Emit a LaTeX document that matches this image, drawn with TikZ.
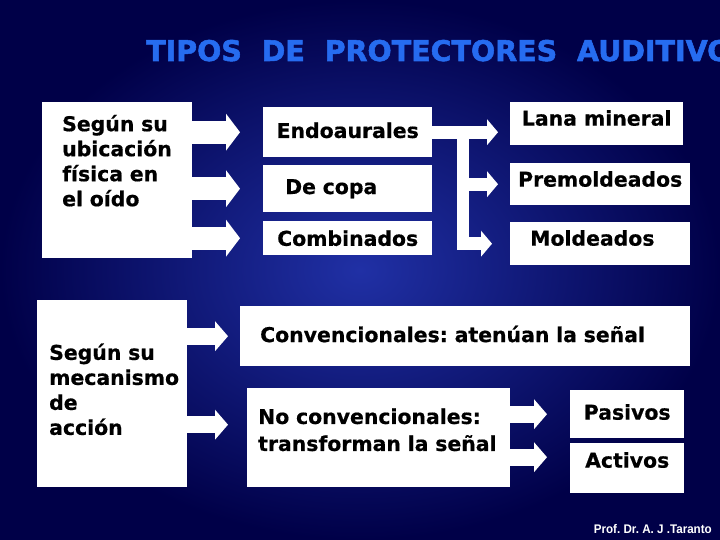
\documentclass[tikz,border=0pt]{standalone}
\usepackage{fontspec}
\setmainfont{DejaVu Sans}[BoldFeatures={FakeBold=0.6}]
\newfontfamily\titlefont{DejaVu Sans Bold}[FakeBold=1.8]
\newfontfamily\footfont{Liberation Sans}
\usetikzlibrary{arrows.meta}
\hyphenpenalty=10000
\frenchspacing
\definecolor{navy}{RGB}{0,0,72}
\definecolor{midblue}{RGB}{32,48,165}
\definecolor{titleblue}{RGB}{38,108,240}
\tikzset{
  box/.style={fill=white, text=black, inner xsep=0pt, inner ysep=0pt,
    anchor=north west, font=\bfseries\fontsize{20.4}{25}\selectfont},
  bigarr/.style={white, line width=23pt,
    -{Triangle[length=14pt, width=37pt, line width=0pt]}},
  midarr/.style={white, line width=17pt,
    -{Triangle[length=13pt, width=30pt, line width=0pt]}},
  thinarr/.style={white, line width=13pt,
    -{Triangle[length=11pt, width=26pt, line width=0pt]}}
}

\begin{document}
\begin{tikzpicture}[x=1pt, y=-1pt]
\useasboundingbox (0,0) rectangle (720,540);
\shade[inner color=midblue, outer color=navy] (0,0) rectangle (720,540);
% title
\node[anchor=base west, text=titleblue, font=\titlefont\fontsize{28.5}{30}\selectfont,
  inner sep=0pt] (title) at (146,61) {TIPOS\ \ DE\ \ PROTECTORES\ \ AUDITIVO};
% ubicacion
\node[box, minimum width=150pt, minimum height=156pt, text width=110pt, inner xsep=20pt,
  align=left, text height=29pt, text depth=127pt] (ubic) at (42,102)
  {Según su\\ubicación\\física en\\el oído};
\node[box, minimum width=169pt, minimum height=50pt, text depth=4pt] (endo) at (263,107) {Endoaurales};
\node[box, minimum width=169pt, minimum height=47pt, text width=125pt, inner xsep=22pt,
  align=left] (copa) at (263,165) {De copa};
\node[box, minimum width=169pt, minimum height=34pt] (comb) at (263,221) {Combinados};
\node[box, minimum width=173pt, minimum height=43pt, text depth=11.6pt] (lana) at (510,102) {Lana mineral};
\node[box, minimum width=180pt, minimum height=42pt, text depth=10.6pt] (prem) at (510,163) {Premoldeados};
\node[box, minimum width=180pt, minimum height=43pt, text width=140pt, inner xsep=20pt,
  align=left, text depth=11.6pt] (mold) at (510,222) {Moldeados};
% mecanismo
\node[box, minimum width=150pt, minimum height=187pt, text width=126pt, inner xsep=12pt,
  align=left, text depth=84pt] (meca) at (37,300) {Según su\\mecanismo\\de\\acción};
\node[box, minimum width=450pt, minimum height=60pt, text width=410pt, inner xsep=20pt,
  align=left, text depth=4.6pt] (conv) at (240,306) {Convencionales: atenúan la señal};
\node[box, minimum width=263pt, minimum height=99pt, text width=241pt, inner xsep=11pt,
  align=left, text depth=43pt] (nocv) at (247,388) {No convencionales:\\[2pt]transforman la señal};
\node[box, minimum width=114pt, minimum height=48pt, text depth=4.6pt] (pas) at (570,390) {Pasivos};
\node[box, minimum width=114pt, minimum height=50pt, text depth=16.6pt] (act) at (570,443) {Activos};
% block arrows
\draw[bigarr, shorten >=23pt] (ubic.east |- endo.west) -- (endo.west);
\draw[bigarr, shorten >=23pt] (ubic.east |- copa.west) -- (copa.west);
\draw[bigarr, shorten >=23pt] (ubic.east |- comb.west) -- (comb.west);
\draw[thinarr, shorten >=12pt] (endo.east) -- (endo.east -| lana.west);
\coordinate (fork) at ([xshift=31pt]endo.east);
\draw[white, line width=12pt, line cap=rect] (fork) -- (fork |- mold.west);
\draw[thinarr, shorten >=12pt] (fork |- prem.west) -- (prem.west);
\draw[thinarr, shorten >=18pt] (fork |- mold.west) -- (mold.west);
\coordinate (nocv-in) at ([yshift=13pt]nocv.west);
\coordinate (act-in) at ([yshift=11pt]act.west);
\draw[midarr, shorten >=12pt] (meca.east |- conv.west) -- (conv.west);
\draw[midarr, shorten >=19pt] (meca.east |- nocv-in) -- (nocv-in);
\draw[midarr, shorten >=23pt] (nocv.east |- pas.west) -- (pas.west);
\draw[midarr, shorten >=23pt] (nocv.east |- act-in) -- (act-in);
% credit
\node[anchor=base east, text=white, font=\footfont\bfseries\fontsize{12.5}{14}\selectfont,
  xscale=0.93, inner sep=0pt] (credit) at (712,533) {Prof. Dr. A. J .Taranto};
\end{tikzpicture}
\end{document}
